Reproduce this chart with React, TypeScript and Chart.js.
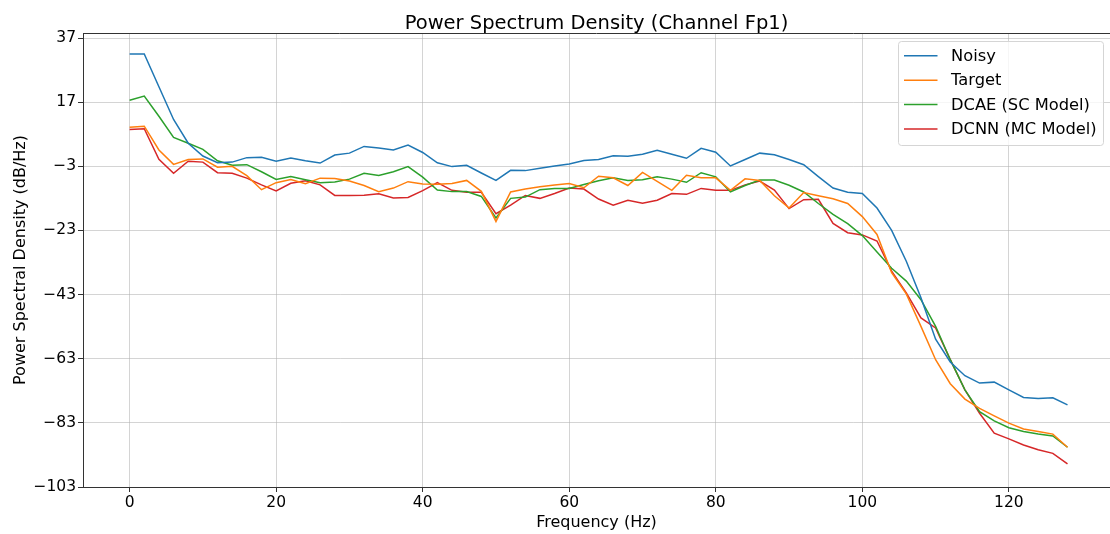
import React, { useEffect, useRef } from "react";
import { Chart, registerables } from "chart.js";

Chart.register(...registerables);

const FREQS = [
  0, 2, 4, 6, 8, 10, 12, 14, 16, 18, 20, 22, 24, 26, 28, 30, 32, 34, 36, 38,
  40, 42, 44, 46, 48, 50, 52, 54, 56, 58, 60, 62, 64, 66, 68, 70, 72, 74, 76, 78,
  80, 82, 84, 86, 88, 90, 92, 94, 96, 98, 100, 102, 104, 106, 108, 110, 112, 114,
  116, 118, 120, 122, 124, 126, 128,
];

const NOISY = [
  32.0, 32.0, 21.8, 11.6, 4.2, 0.2, -1.9, -1.7, -0.3, -0.2, -1.4, -0.4, -1.3, -2.0,
  0.5, 1.1, 3.2, 2.7, 2.1, 3.6, 1.3, -1.9, -3.1, -2.7, -5.1, -7.4, -4.25, -4.35,
  -3.6, -2.9, -2.3, -1.2, -0.9, 0.3, 0.1, 0.75, 2.0, 0.75, -0.5, 2.6, 1.4, -2.9,
  -0.9, 1.1, 0.6, -0.9, -2.5, -6.2, -9.8, -11.1, -11.5, -16.0, -23.0, -32.6, -44.0,
  -56.9, -64.0, -68.3, -70.6, -70.3, -72.7, -75.1, -75.4, -75.2, -77.4,
];

const TARGET = [
  9.2, 9.5, 2.1, -2.4, -0.9, -0.7, -3.3, -3.0, -5.9, -10.3, -8.1, -7.1, -8.4, -6.7,
  -6.8, -7.6, -9.0, -10.9, -9.8, -7.8, -8.5, -8.6, -8.4, -7.4, -10.8, -20.2, -11.0,
  -10.1, -9.4, -8.8, -8.4, -9.7, -6.1, -6.6, -9.0, -4.9, -7.7, -10.5, -5.8, -6.6,
  -6.6, -10.5, -6.9, -7.4, -12.2, -16.0, -11.2, -12.2, -13.1, -14.6, -18.7, -24.25,
  -36.2, -42.8, -52.9, -63.3, -70.8, -75.6, -78.5, -80.8, -83.1, -84.9, -85.7,
  -86.5, -90.6,
];

const DCAE = [
  17.6, 18.9, 12.6, 6.0, 4.2, 2.3, -1.3, -2.7, -2.5, -4.7, -7.1, -6.2, -7.2, -8.1,
  -7.9, -7.0, -5.2, -5.9, -4.7, -3.1, -6.4, -10.4, -10.9, -10.9, -12.4, -19.1,
  -13.0, -12.6, -10.3, -9.9, -9.9, -8.7, -7.5, -6.6, -7.4, -7.2, -6.3, -7.0, -8.0,
  -5.0, -6.3, -11.0, -9.0, -7.3, -7.3, -8.9, -11.0, -14.6, -18.0, -20.9, -24.6,
  -29.7, -34.8, -38.8, -44.6, -52.9, -63.3, -72.7, -79.5, -82.4, -84.5, -85.7,
  -86.5, -87.1, -90.6,
];

const DCNN = [
  8.5, 8.7, -0.8, -5.2, -1.4, -1.7, -5.0, -5.2, -6.7, -8.8, -10.7, -8.3, -7.5, -8.8,
  -12.1, -12.1, -12.0, -11.6, -12.9, -12.7, -10.6, -8.1, -10.5, -11.1, -11.1, -17.8,
  -15.1, -12.1, -13.0, -11.5, -9.8, -10.1, -13.2, -15.1, -13.6, -14.5, -13.6, -11.5,
  -11.75, -9.9, -10.5, -10.5, -8.8, -7.6, -10.4, -16.2, -13.4, -13.3, -20.8, -23.7,
  -24.4, -26.3, -35.7, -42.5, -50.3, -53.4, -63.3, -72.7, -80.0, -86.2, -88.0,
  -89.9, -91.4, -92.5, -95.8,
];

const X_TICKS = [0, 20, 40, 60, 80, 100, 120];
const Y_TICKS = [37, 17, -3, -23, -43, -63, -83, -103];

const SERIES_NAMES = ["Noisy", "Target", "DCAE (SC Model)", "DCNN (MC Model)"];
const SERIES_COLORS = ["#1f77b4", "#ff7f0e", "#2ca02c", "#d62728"];
const SERIES_VALUES = [NOISY, TARGET, DCAE, DCNN];

const TITLE = "Power Spectrum Density (Channel Fp1)";
const X_LABEL = "Frequency (Hz)";
const Y_LABEL = "Power Spectral Density (dB/Hz)";

const FONT = '"DejaVu Sans", "Liberation Sans", sans-serif';

const decorPlugin = {
  id: "decor",
  afterDraw(chart: any) {
    const { ctx, chartArea: ca } = chart;
    ctx.save();
    // top spine
    ctx.strokeStyle = "#333333";
    ctx.lineWidth = 1;
    ctx.beginPath();
    ctx.moveTo(ca.left, Math.round(ca.top) + 0.5);
    ctx.lineTo(ca.right, Math.round(ca.top) + 0.5);
    ctx.stroke();

    // title
    ctx.fillStyle = "#000000";
    ctx.textAlign = "center";
    ctx.textBaseline = "alphabetic";
    ctx.font = `19.5px ${FONT}`;
    ctx.fillText(TITLE, (ca.left + ca.right) / 2, 29.3);

    // x label
    ctx.font = `16px ${FONT}`;
    ctx.fillText(X_LABEL, (ca.left + ca.right) / 2, 527.3);

    // y label
    ctx.save();
    ctx.translate(24.5, (ca.top + ca.bottom) / 2);
    ctx.rotate(-Math.PI / 2);
    ctx.fillText(Y_LABEL, 0, 0);
    ctx.restore();

    // legend
    const bx = 898.5, by = 41.5, bw = 205, bh = 104, r = 3;
    ctx.beginPath();
    ctx.moveTo(bx + r, by);
    ctx.lineTo(bx + bw - r, by);
    ctx.arcTo(bx + bw, by, bx + bw, by + r, r);
    ctx.lineTo(bx + bw, by + bh - r);
    ctx.arcTo(bx + bw, by + bh, bx + bw - r, by + bh, r);
    ctx.lineTo(bx + r, by + bh);
    ctx.arcTo(bx, by + bh, bx, by + bh - r, r);
    ctx.lineTo(bx, by + r);
    ctx.arcTo(bx, by, bx + r, by, r);
    ctx.closePath();
    ctx.fillStyle = "rgba(255,255,255,0.8)";
    ctx.fill();
    ctx.strokeStyle = "#d5d5d5";
    ctx.lineWidth = 1;
    ctx.stroke();

    ctx.font = `16.3px ${FONT}`;
    ctx.textAlign = "left";
    ctx.textBaseline = "middle";
    SERIES_NAMES.forEach((name, i) => {
      const cy = 55.7 + i * 24.45;
      ctx.strokeStyle = SERIES_COLORS[i];
      ctx.lineWidth = 1.5;
      ctx.beginPath();
      ctx.moveTo(904, cy);
      ctx.lineTo(937.5, cy);
      ctx.stroke();
      ctx.fillStyle = "#000000";
      ctx.fillText(name, 951, cy + 1);
    });
    ctx.restore();
  },
};

export default function App() {
  const canvasRef = useRef<HTMLCanvasElement | null>(null);

  useEffect(() => {
    const canvas = canvasRef.current;
    if (!canvas) return;
    const gridColor = "rgba(176,176,176,0.55)";
    const chart = new Chart(canvas, {
      type: "line",
      data: {
        datasets: SERIES_VALUES.map((vals, i) => ({
          label: SERIES_NAMES[i],
          data: FREQS.map((f, j) => ({ x: f, y: vals[j] })),
          borderColor: SERIES_COLORS[i],
          backgroundColor: SERIES_COLORS[i],
          borderWidth: 1.5,
          pointRadius: 0,
          tension: 0,
          fill: false,
        })),
      },
      options: {
        responsive: false,
        animation: false,
        devicePixelRatio: 1,
        layout: { padding: { top: 33, left: 0, right: 0, bottom: 0 } },
        plugins: {
          legend: { display: false },
          title: { display: false },
          tooltip: { enabled: false },
        },
        scales: {
          x: {
            type: "linear",
            min: -6.36,
            max: 133.8,
            afterBuildTicks: (scale: any) => {
              scale.ticks = X_TICKS.map((v) => ({ value: v }));
            },
            afterFit: (scale: any) => {
              scale.height = 47;
            },
            ticks: {
              color: "#000000",
              font: { family: FONT, size: 15.5 },
              padding: 2,
              maxRotation: 0,
              autoSkip: false,
              callback: (v: any) => String(v).replace("-", "\u2212"),
            },
            grid: {
              color: gridColor,
              lineWidth: 1,
              tickColor: "#333333",
              tickLength: 5,
              drawTicks: true,
            },
            border: { color: "#333333", width: 1 },
          },
          y: {
            type: "linear",
            min: -103,
            max: 38.56,
            afterBuildTicks: (scale: any) => {
              scale.ticks = Y_TICKS.map((v) => ({ value: v }));
            },
            afterFit: (scale: any) => {
              scale.width = 83;
            },
            ticks: {
              color: "#000000",
              font: { family: FONT, size: 15.5 },
              padding: 2,
              autoSkip: false,
              callback: (v: any) => String(v).replace("-", "\u2212"),
            },
            grid: {
              color: gridColor,
              lineWidth: 1,
              tickColor: "#333333",
              tickLength: 5,
              drawTicks: true,
            },
            border: { color: "#333333", width: 1 },
          },
        },
      },
      plugins: [decorPlugin],
    });
    return () => chart.destroy();
  }, []);

  return (
    <div style={{ position: "absolute", left: 0, top: 0, width: 1110, height: 534, background: "#fff" }}>
      <canvas ref={canvasRef} width={1110} height={534} style={{ display: "block" }} />
    </div>
  );
}
